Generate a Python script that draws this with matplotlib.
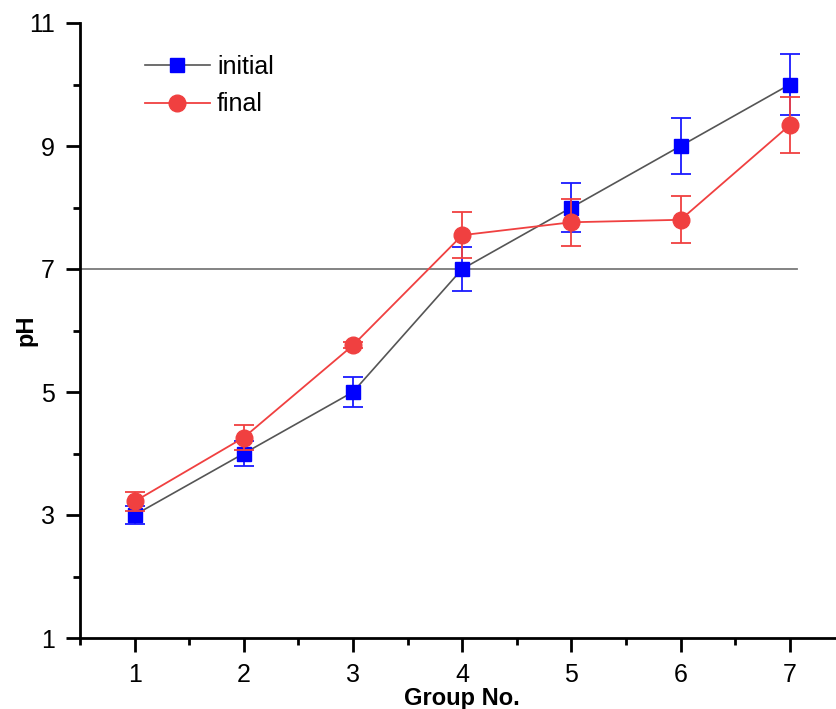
import matplotlib
matplotlib.use('Agg')
import matplotlib.pyplot as plt
from matplotlib.lines import Line2D

plt.rcParams['font.family'] = ['Liberation Sans', 'DejaVu Sans']
plt.rcParams['font.size'] = 18

# data
groups = [1, 2, 3, 4, 5, 6, 7]
ph_initial = [3.0, 4.0, 5.0, 7.0, 8.0, 9.0, 10.0]
err_initial = [0.15, 0.2, 0.25, 0.35, 0.4, 0.45, 0.5]
ph_final = [3.22, 4.26, 5.76, 7.55, 7.76, 7.80, 9.34]
err_final = [0.16, 0.2, 0.05, 0.37, 0.38, 0.38, 0.46]
neutral_ph = 7
y_ticks = [1, 3, 5, 7, 9, 11]
y_minor = [2, 4, 6, 8, 10]

red = '#f04040'
blue = '#0000ff'

fig = plt.figure(figsize=(8.36, 7.09), dpi=100)
ax = fig.add_axes([80 / 836, 71 / 709, 7 * 109.2 / 836, 615 / 709])

ax.plot([0.5, 7.07], [neutral_ph, neutral_ph], color='#7a7a7a', lw=1.3, zorder=1)

ax.errorbar(groups, ph_final, yerr=err_final, color=red, ecolor=red,
            marker='o', ms=12, lw=1.3, elinewidth=1.3, capsize=7, capthick=1.3,
            zorder=3)
ax.errorbar(groups, ph_initial, yerr=err_initial, color='#555555', ecolor='#1a1aff',
            marker='s', ms=10, mfc=blue, mec=blue, lw=1.2,
            elinewidth=1.3, capsize=7, capthick=1.3, zorder=2)

ax.set_xlim(0.5, 7.5)
ax.set_ylim(1, 11)
ax.set_xticks(groups)
ax.set_xticks([g + 0.5 for g in [0] + groups], minor=True)
ax.set_yticks(y_ticks)
ax.set_yticks(y_minor, minor=True)

ax.spines['top'].set_visible(False)
ax.spines['right'].set_visible(False)
ax.spines['left'].set_linewidth(2)
ax.spines['bottom'].set_linewidth(2)
ax.tick_params(which='major', direction='out', length=10, width=2, labelsize=18, pad=8)
ax.tick_params(which='minor', direction='out', length=5, width=2)

ax.set_xlabel('Group No.', fontsize=17, fontweight='bold', labelpad=0)
ax.set_ylabel('pH', fontsize=17, fontweight='bold')
ax.yaxis.set_label_coords(-0.055, 0.5)

handles = [
    Line2D([], [], color='#555555', lw=1.2, marker='s', ms=10, mfc=blue, mec=blue),
    Line2D([], [], color=red, lw=1.3, marker='o', ms=12, mfc=red, mec=red),
]
ax.legend(handles, ['initial', 'final'], loc='upper left', bbox_to_anchor=(0.055, 0.985),
          frameon=False, fontsize=18, handlelength=2.6, handletextpad=0.3,
          labelspacing=0.55)

plt.savefig('out.png', dpi=100)
plt.close()
